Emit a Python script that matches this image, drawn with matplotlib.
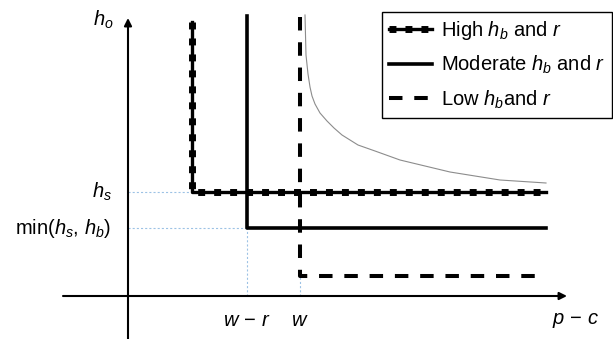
import matplotlib
matplotlib.use("Agg")
import matplotlib.pyplot as plt
from matplotlib.lines import Line2D
from matplotlib.legend_handler import HandlerTuple

plt.rcParams['font.family'] = ['Liberation Sans', 'DejaVu Sans']
plt.rcParams['mathtext.fontset'] = 'custom'
plt.rcParams['mathtext.it'] = 'Liberation Sans:italic'
plt.rcParams['mathtext.rm'] = 'Liberation Sans'
plt.rcParams['lines.scale_dashes'] = False

# key levels on the two axes (schematic units)
x_high = 64          # where the high h_b, r curve turns
w_minus_r = 119
w = 172
x_end = 418
h_s = 104
min_hs_hb = 68
h_low = 20
y_top = [274, 280, 279]   # tops of the vertical parts: high, moderate, low

# thin grey boundary curve
curve_x = [177, 178, 180, 182, 184, 187, 192, 199, 206, 214, 230, 247, 272, 322, 372, 418]
curve_y = [281, 241, 222, 209, 200, 192, 183, 175, 168, 161, 151, 145, 136, 124, 116, 113]

fig = plt.figure(figsize=(6.13, 3.39), dpi=100)
ax = fig.add_axes([0, 0, 1, 1])
ax.set_xlim(-128, 485)
ax.set_ylim(-43, 296)
ax.axis('off')

# axes with arrows
ax.annotate('', xy=(439, 0), xytext=(-65, 0),
            arrowprops=dict(arrowstyle='-|>', lw=1.5, color='k', mutation_scale=11, shrinkA=0, shrinkB=0))
ax.annotate('', xy=(0, 278), xytext=(0, -43),
            arrowprops=dict(arrowstyle='-|>', lw=1.5, color='k', mutation_scale=11, shrinkA=0, shrinkB=0))

# light blue guides
guide = dict(color='#9cc2e5', lw=0.8, ls=(0, (1.5, 1.5)))
ax.plot([0, x_high], [h_s, h_s], **guide)
ax.plot([0, w_minus_r], [min_hs_hb, min_hs_hb], **guide)
ax.plot([w_minus_r, w_minus_r], [0, min_hs_hb], **guide)
ax.plot([w, w], [0, h_low], **guide)

ax.plot(curve_x, curve_y, color='#8c8c8c', lw=0.8)

# high h_b and r: thin solid line with square dots on top
hx = [x_high, x_high, x_end]
hy = [y_top[0], h_s, h_s]
ax.plot(hx, hy, color='k', lw=2.4)
ax.plot(hx, hy, color='k', lw=5, ls=(0, (5, 6.5)), solid_capstyle='butt', dash_capstyle='butt')

# moderate
ax.plot([w_minus_r, w_minus_r, x_end], [y_top[1], min_hs_hb, min_hs_hb], color='k', lw=2.6)

# low
ax.plot([w, w, x_end], [y_top[2], h_low, h_low], color='k', lw=2.9, ls=(0, (9.7, 8.5)),
        dash_capstyle='butt')

fs = 14.5
ax.text(-25, 276, '$h_o$', fontsize=fs, ha='center', va='center')
ax.text(-16, h_s, '$h_s$', fontsize=fs, ha='right', va='center')
ax.text(-17, min_hs_hb, r'min($h_s$, $h_b$)', fontsize=fs, ha='right', va='center')
ax.text(w_minus_r, -25, r'$w\,-\,r$', fontsize=fs, ha='center', va='center')
ax.text(w, -25, '$w$', fontsize=fs, ha='center', va='center')
ax.text(448, -25, r'$p\,-\,c$', fontsize=fs, ha='center', va='center')

h1 = Line2D([], [], color='k', lw=2.4)
h2 = Line2D([], [], color='k', lw=5, ls=(0, (5, 6.5)), dash_capstyle='butt')
m = Line2D([], [], color='k', lw=2.6)
lo = Line2D([], [], color='k', lw=2.9, ls=(0, (9.7, 8.5)), dash_capstyle='butt')
leg = ax.legend([(h1, h2), m, lo],
                ['High $h_b$ and $r$', 'Moderate $h_b$ and $r$', 'Low $h_b$and $r$'],
                handler_map={tuple: HandlerTuple(ndivide=1)},
                loc='upper right', bbox_to_anchor=(612 / 613, 1 - 12 / 339),
                bbox_transform=fig.transFigure, borderaxespad=0,
                fontsize=fs, handlelength=2.1, handletextpad=0.45,
                labelspacing=0.6, borderpad=0.35,
                fancybox=False, framealpha=1, edgecolor='k')
leg.get_frame().set_linewidth(1.0)

fig.savefig('out.png', dpi=100)
